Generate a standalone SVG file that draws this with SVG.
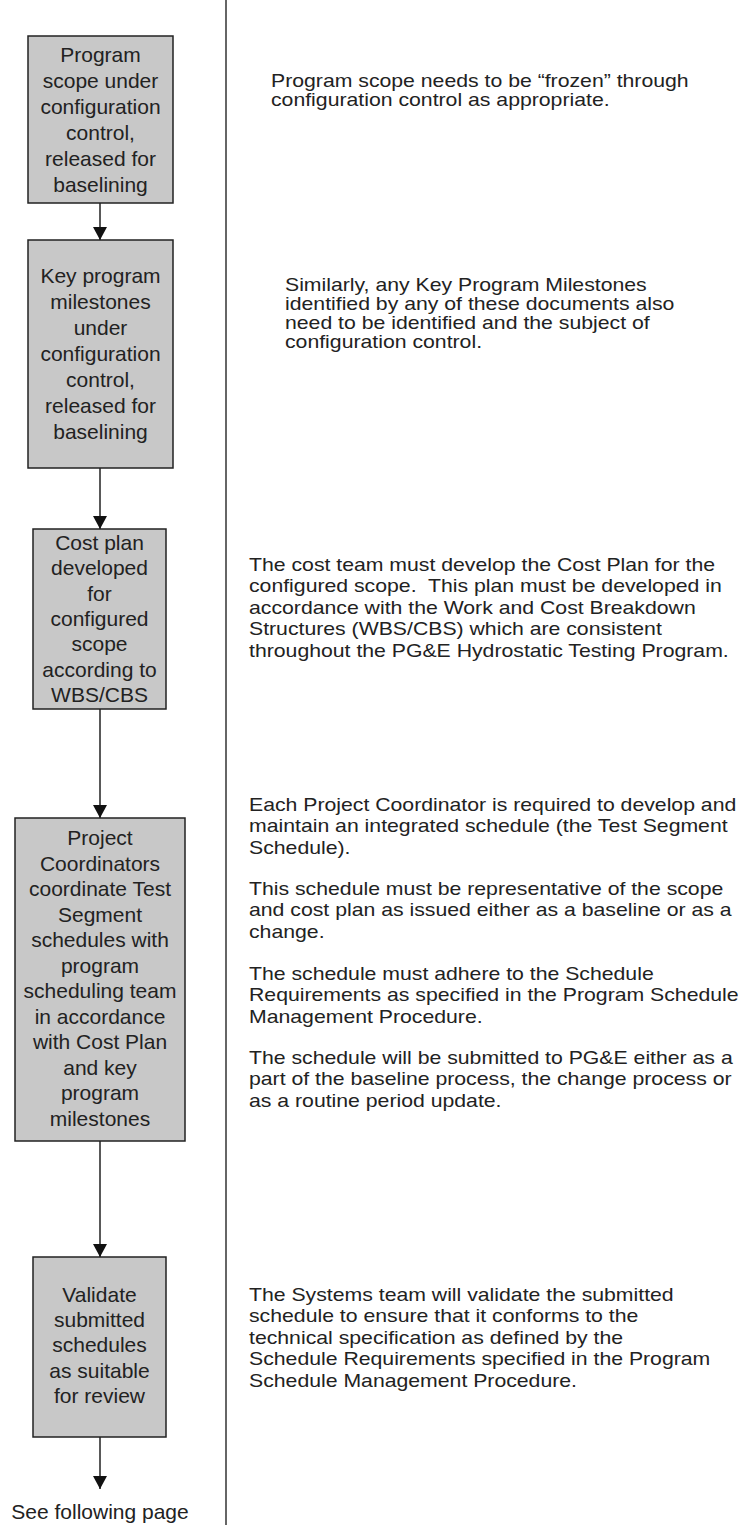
<svg xmlns="http://www.w3.org/2000/svg" width="745" height="1525" viewBox="0 0 745 1525">
  <style>
    .box { fill: #c8c8c8; stroke: #222; stroke-width: 1.5; }
    .lbl { font-family: "Liberation Sans", Arial, sans-serif; font-size: 21px; fill: #222; text-anchor: middle; }
    .note { font-family: "Liberation Sans", Arial, sans-serif; font-size: 18px; fill: #222; }
    .conn { stroke: #222; stroke-width: 1.5; fill: none; marker-end: url(#arrow); }
    .divider { stroke: #333; stroke-width: 1.5; }
  </style>
  <defs>
    <marker id="arrow" viewBox="0 0 13 14" refX="13" refY="7" markerWidth="13" markerHeight="14" markerUnits="userSpaceOnUse" orient="auto">
      <path d="M0,0 L13,7 L0,14 z" fill="#111"/>
    </marker>
  </defs>

  <rect width="745" height="1525" fill="#fff"/>

  <!-- column divider -->
  <line class="divider" x1="226" y1="0" x2="226" y2="1525"/>

  <!-- flow connectors -->
  <g id="connectors">
    <line class="conn" x1="100" y1="203" x2="100" y2="240"/>
    <line class="conn" x1="100" y1="468" x2="100" y2="529"/>
    <line class="conn" x1="100" y1="709" x2="100" y2="818"/>
    <line class="conn" x1="100" y1="1141" x2="100" y2="1257"/>
    <line class="conn" x1="100" y1="1437" x2="100" y2="1489"/>
  </g>

  <g id="scope-baseline">
    <rect class="box" x="28" y="36" width="145" height="167"/>
    <text class="lbl" x="100.5" y="62">Program</text>
    <text class="lbl" x="100.5" y="88">scope under</text>
    <text class="lbl" x="100.5" y="114">configuration</text>
    <text class="lbl" x="100.5" y="140">control,</text>
    <text class="lbl" x="100.5" y="166">released for</text>
    <text class="lbl" x="100.5" y="192">baselining</text>
  </g>

  <g id="milestones-baseline">
    <rect class="box" x="28" y="240" width="145" height="228"/>
    <text class="lbl" x="100.5" y="283">Key program</text>
    <text class="lbl" x="100.5" y="309">milestones</text>
    <text class="lbl" x="100.5" y="335">under</text>
    <text class="lbl" x="100.5" y="361">configuration</text>
    <text class="lbl" x="100.5" y="387">control,</text>
    <text class="lbl" x="100.5" y="413">released for</text>
    <text class="lbl" x="100.5" y="439">baselining</text>
  </g>

  <g id="cost-plan">
    <rect class="box" x="33" y="529" width="133" height="180"/>
    <text class="lbl" x="99.5" y="550">Cost plan</text>
    <text class="lbl" x="99.5" y="575">developed</text>
    <text class="lbl" x="99.5" y="601">for</text>
    <text class="lbl" x="99.5" y="626">configured</text>
    <text class="lbl" x="99.5" y="651">scope</text>
    <text class="lbl" x="99.5" y="677">according to</text>
    <text class="lbl" x="99.5" y="702">WBS/CBS</text>
  </g>

  <g id="coordinate-schedules">
    <rect class="box" x="15" y="818" width="170" height="323"/>
    <text class="lbl" x="100" y="845">Project</text>
    <text class="lbl" x="100" y="870.5">Coordinators</text>
    <text class="lbl" x="100" y="896">coordinate Test</text>
    <text class="lbl" x="100" y="921.5">Segment</text>
    <text class="lbl" x="100" y="947">schedules with</text>
    <text class="lbl" x="100" y="972.5">program</text>
    <text class="lbl" x="100" y="998">scheduling team</text>
    <text class="lbl" x="100" y="1023.5">in accordance</text>
    <text class="lbl" x="100" y="1049">with Cost Plan</text>
    <text class="lbl" x="100" y="1074.5">and key</text>
    <text class="lbl" x="100" y="1100">program</text>
    <text class="lbl" x="100" y="1125.5">milestones</text>
  </g>

  <g id="validate-schedules">
    <rect class="box" x="33" y="1257" width="133" height="180"/>
    <text class="lbl" x="99.5" y="1302">Validate</text>
    <text class="lbl" x="99.5" y="1327">submitted</text>
    <text class="lbl" x="99.5" y="1352">schedules</text>
    <text class="lbl" x="99.5" y="1378">as suitable</text>
    <text class="lbl" x="99.5" y="1403">for review</text>
  </g>

  <g id="continuation">
    <text class="lbl" x="100" y="1519">See following page</text>
  </g>

  <!-- explanatory notes, right column -->
  <g id="note-scope" transform="translate(271,0) scale(1.18,1)">
    <text class="note" x="0" y="87">Program scope needs to be “frozen” through</text>
    <text class="note" x="0" y="106">configuration control as appropriate.</text>
  </g>

  <g id="note-milestones" transform="translate(285,0) scale(1.18,1)">
    <text class="note" x="0" y="291">Similarly, any Key Program Milestones</text>
    <text class="note" x="0" y="310">identified by any of these documents also</text>
    <text class="note" x="0" y="329">need to be identified and the subject of</text>
    <text class="note" x="0" y="348">configuration control.</text>
  </g>

  <g id="note-cost" transform="translate(249,0) scale(1.18,1)">
    <text class="note" x="0" y="571">The cost team must develop the Cost Plan for the</text>
    <text class="note" x="0" y="592.5" xml:space="preserve">configured scope.  This plan must be developed in</text>
    <text class="note" x="0" y="614">accordance with the Work and Cost Breakdown</text>
    <text class="note" x="0" y="635.5">Structures (WBS/CBS) which are consistent</text>
    <text class="note" x="0" y="657">throughout the PG&amp;E Hydrostatic Testing Program.</text>
  </g>

  <g id="note-schedule" transform="translate(249,0) scale(1.18,1)">
    <text class="note" x="0" y="811">Each Project Coordinator is required to develop and</text>
    <text class="note" x="0" y="832.5">maintain an integrated schedule (the Test Segment</text>
    <text class="note" x="0" y="854">Schedule).</text>
    <text class="note" x="0" y="895">This schedule must be representative of the scope</text>
    <text class="note" x="0" y="916.5">and cost plan as issued either as a baseline or as a</text>
    <text class="note" x="0" y="938">change.</text>
    <text class="note" x="0" y="980">The schedule must adhere to the Schedule</text>
    <text class="note" x="0" y="1001.5">Requirements as specified in the Program Schedule</text>
    <text class="note" x="0" y="1023">Management Procedure.</text>
    <text class="note" x="0" y="1064">The schedule will be submitted to PG&amp;E either as a</text>
    <text class="note" x="0" y="1085.5">part of the baseline process, the change process or</text>
    <text class="note" x="0" y="1107">as a routine period update.</text>
  </g>

  <g id="note-validate" transform="translate(249,0) scale(1.18,1)">
    <text class="note" x="0" y="1301">The Systems team will validate the submitted</text>
    <text class="note" x="0" y="1322.5">schedule to ensure that it conforms to the</text>
    <text class="note" x="0" y="1344">technical specification as defined by the</text>
    <text class="note" x="0" y="1365.5">Schedule Requirements specified in the Program</text>
    <text class="note" x="0" y="1387">Schedule Management Procedure.</text>
  </g>
</svg>
